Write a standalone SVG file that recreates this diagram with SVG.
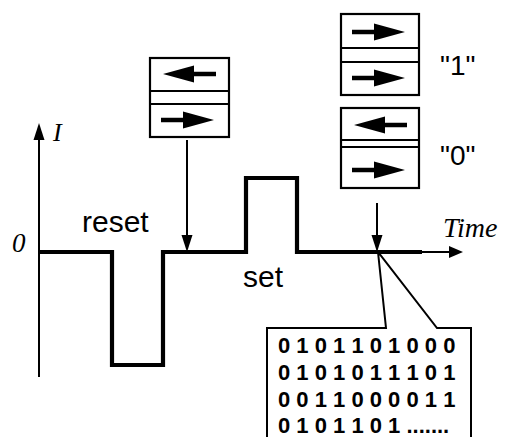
<svg xmlns="http://www.w3.org/2000/svg" width="505" height="437" viewBox="0 0 505 437">
<defs>
<style>
.box{fill:#fff;stroke:#000;stroke-width:2.2}
.div{stroke:#000;stroke-width:2}
.sh{stroke:#000;stroke-width:4.5;fill:none}
.hd{fill:#000}
.lbl{font-family:"Liberation Sans",Arial,sans-serif;font-size:30px;fill:#000}
.q{font-family:"Liberation Sans",Arial,sans-serif;font-size:28px;fill:#000}
.it{font-family:"Liberation Serif","Times New Roman",serif;font-style:italic;fill:#000}
.bits{font-family:"Liberation Sans",Arial,sans-serif;font-weight:bold;font-size:22px;fill:#000}
.wave{fill:none;stroke:#000;stroke-width:4.2;stroke-linejoin:miter}
.thin{fill:none;stroke:#000;stroke-width:2}
</style>
<marker id="ah" viewBox="0 0 10 16" refX="10" refY="8" markerWidth="10" markerHeight="16" markerUnits="userSpaceOnUse" orient="auto">
<path d="M0,0 L10,8 L0,16 Z" fill="#000"/>
</marker>
<g id="arrR">
<line x1="0" y1="0" x2="26" y2="0" class="sh"/>
<path d="M22,-8.5 L53,0 L22,8.5 Z" class="hd"/>
</g>
<g id="arrL">
<line x1="53" y1="0" x2="27" y2="0" class="sh"/>
<path d="M31,-8.5 L0,0 L31,8.5 Z" class="hd"/>
</g>
</defs>

<g id="connectors">
<!-- y axis -->
<line x1="39" y1="377" x2="39" y2="138" class="thin"/>
<path d="M33.5,140 L39,123 L44.5,140 Z" fill="#000"/>
<!-- time axis thin part -->
<line x1="420" y1="252" x2="450" y2="252" class="thin"/>
<path d="M449,246 L463,252 L449,258 Z" fill="#000"/>
<!-- waveform -->
<path class="wave" d="M39,252 H112 V365 H163 V252 H246 V178 H297 V252 H422"/>
<!-- down arrows -->
<line x1="187" y1="140" x2="187" y2="236" class="thin" stroke-width="1.6"/>
<path d="M181.5,235 L187,252 L192.5,235 Z" fill="#000"/>
<line x1="377" y1="203" x2="377" y2="236" class="thin" stroke-width="1.6"/>
<path d="M371.5,235 L377,252 L382.5,235 Z" fill="#000"/>
</g>

<g id="label-I"><text class="it" x="53" y="141" font-size="26">I</text></g>
<g id="label-0"><text class="it" x="12" y="252" font-size="27">0</text></g>
<g id="label-time"><text class="it" x="443" y="237" font-size="28">Time</text></g>
<g id="label-reset"><text class="lbl" x="82" y="232">reset</text></g>
<g id="label-set"><text class="lbl" x="243" y="287">set</text></g>

<g id="box-reset">
<rect class="box" x="150" y="58" width="79" height="79"/>
<line class="div" x1="150" y1="91" x2="229" y2="91"/>
<line class="div" x1="150" y1="104" x2="229" y2="104"/>
<use href="#arrL" x="163" y="74"/>
<use href="#arrR" x="161" y="120"/>
</g>

<g id="box-1">
<rect class="box" x="341" y="14" width="78" height="81"/>
<line class="div" x1="341" y1="48" x2="419" y2="48"/>
<line class="div" x1="341" y1="62" x2="419" y2="62"/>
<use href="#arrR" x="352" y="32"/>
<use href="#arrR" x="352" y="78"/>
</g>
<g id="label-1"><text class="q" x="440" y="75">"1"</text></g>

<g id="box-0">
<rect class="box" x="341" y="108" width="78" height="80"/>
<line class="div" x1="341" y1="140" x2="419" y2="140"/>
<line class="div" x1="341" y1="147" x2="419" y2="147"/>
<use href="#arrL" x="354" y="125"/>
<use href="#arrR" x="352" y="170"/>
</g>
<g id="label-0q"><text class="q" x="440" y="165">"0"</text></g>

<g id="bits-callout">
<path d="M267,438 V328 H386 L378,252 L437,328 H471 V438" fill="#fff" stroke="#000" stroke-width="2"/>
<text class="bits" x="278" y="353">0 1 0 1 1 0 1 0 0 0</text>
<text class="bits" x="278" y="380">0 1 0 1 0 1 1 1 0 1</text>
<text class="bits" x="278" y="407">0 0 1 1 0 0 0 0 1 1</text>
<text class="bits" x="278" y="433">0 1 0 1 1 0 1 .......</text>
</g>
</svg>
